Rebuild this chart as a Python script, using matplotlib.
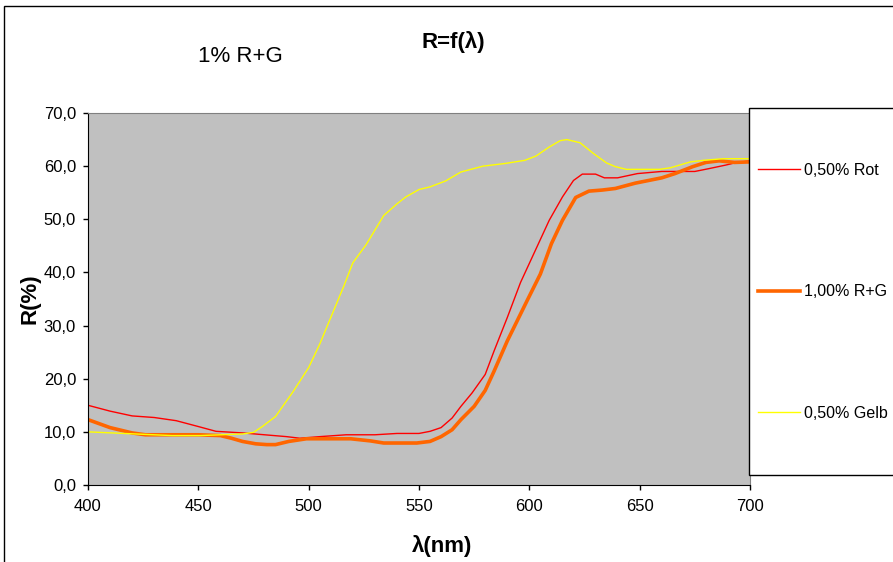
import numpy as np
import matplotlib
matplotlib.use('Agg')
import matplotlib.pyplot as plt
from matplotlib.patches import Rectangle
from matplotlib.ticker import FuncFormatter

plt.rcParams['font.family'] = 'Liberation Sans'

# wavelength (nm) and reflectance R (%)
red_nm = [400, 410, 420, 430, 440, 450, 458, 470, 480, 490, 496, 505, 517, 530, 540, 550, 555, 560,
          565, 569, 574, 580, 584, 590, 596, 603, 609, 615, 620, 624, 630, 634, 640, 649, 660, 675,
          681, 689, 693, 700]
red_R = [15.0, 13.9, 13.0, 12.7, 12.1, 11.0, 10.1, 9.8, 9.45, 9.1, 8.8, 9.1, 9.45, 9.45, 9.7, 9.7, 10.1, 10.8,
         12.6, 14.8, 17.3, 20.8, 25.2, 31.5, 38.1, 44.4, 49.8, 54.2, 57.3, 58.5, 58.5, 57.8, 57.8, 58.6, 59.0, 59.0,
         59.5, 60.2, 60.6, 61.0]

orange_nm = [400, 410, 420, 426, 441, 450, 460, 465, 470, 476, 481, 485, 491, 499, 509, 519, 528, 534, 549,
             555, 560, 565, 569, 575, 580, 584, 590, 599, 605, 610, 615, 621, 627, 633, 639, 648, 660, 666,
             674, 680, 686, 693, 700]
orange_R = [12.3, 10.8, 9.8, 9.45, 9.45, 9.45, 9.3, 8.8, 8.2, 7.75, 7.6, 7.6, 8.2, 8.7, 8.7, 8.7, 8.3, 7.9, 7.9,
            8.2, 9.1, 10.4, 12.3, 14.8, 17.8, 21.4, 27.1, 34.7, 39.7, 45.4, 49.8, 54.1, 55.3, 55.5, 55.8, 56.8, 57.8, 58.6,
            59.9, 60.7, 61.0, 60.7, 60.8]

yellow_nm = [400, 419, 438, 451, 460, 470, 475, 479, 485, 493, 500, 505, 510, 516, 520, 526, 534, 540, 544,
             550, 555, 562, 569, 579, 589, 598, 603, 609, 614, 617, 623, 629, 635, 639, 644, 659, 664, 673,
             679, 688, 700]
yellow_R = [10.0, 9.65, 9.3, 9.3, 9.45, 9.6, 9.9, 11.0, 12.9, 17.6, 22.1, 26.5, 31.5, 37.5, 41.8, 45.2, 50.7, 52.9, 54.2,
            55.6, 56.1, 57.2, 58.9, 60.0, 60.5, 61.1, 61.9, 63.6, 64.8, 65.0, 64.4, 62.4, 60.6, 59.9, 59.4, 59.4, 59.7, 60.8,
            61.1, 61.4, 61.4]

labels = ['0,50% Rot', '1,00% R+G', '0,50% Gelb']
x_ticks = [400, 450, 500, 550, 600, 650, 700]
y_ticks = [0, 10, 20, 30, 40, 50, 60, 70]

W, H = 893, 562
fig = plt.figure(figsize=(W / 100, H / 100), dpi=100)
ax = fig.add_axes([88 / W, 1 - 485 / H, (750 - 88) / W, (485 - 113) / H])
ax.set_facecolor('#C0C0C0')

l1, = ax.plot(red_nm, red_R, color='#FF0000', lw=1.0)
l2, = ax.plot(orange_nm, orange_R, color='#FF6600', lw=2.6)
l3, = ax.plot(yellow_nm, yellow_R, color='#FFFF00', lw=1.0)

ax.set_xlim(400, 700)
ax.set_ylim(0, 70)
ax.set_xticks(x_ticks)
ax.set_yticks(y_ticks)
ax.yaxis.set_major_formatter(FuncFormatter(lambda v, p: ('%.1f' % v).replace('.', ',')))
ax.tick_params(direction='out', length=3.6, width=1, labelsize=12, color='black')
ax.tick_params(axis='x', pad=6.5)
ax.tick_params(axis='y', pad=5)
ax.spines['top'].set_color('#808080')
ax.spines['right'].set_color('#808080')

ax.set_xlabel('λ(nm)', fontsize=16, fontweight='bold', va='center')
ax.xaxis.set_label_coords((442 - 88) / 662, -(546 - 485) / 372)
ax.set_ylabel('R(%)', fontsize=16, fontweight='bold', va='center')
ax.yaxis.set_label_coords(-(88 - 30) / 662, 0.5)

fig.text(453 / W, 1 - 42 / H, 'R=f(λ)', fontsize=16, fontweight='bold', ha='center', va='center')
fig.text(240 / W, 1 - 56 / H, '1% R+G', fontsize=16, ha='center', va='center')

# outer chart border and legend box
fig.patches.append(Rectangle((4 / W, -0.05), 1.0, 1 - 6 / H + 0.05, transform=fig.transFigure,
                             fill=False, edgecolor='black', lw=1.0))
fig.patches.append(Rectangle((749 / W, 1 - 475 / H), 0.3, (475 - 108) / H, transform=fig.transFigure,
                             facecolor='white', edgecolor='black', lw=1.0, zorder=3))

leg = fig.legend([l1, l2, l3], labels, loc='upper left', bbox_to_anchor=(758 / W, 1 - 163 / H),
                 frameon=False, fontsize=11.5, handlelength=2.6, handletextpad=0.25,
                 labelspacing=6.66, borderpad=0, borderaxespad=0)
leg.set_zorder(4)

fig.savefig('out.png', dpi=100)
